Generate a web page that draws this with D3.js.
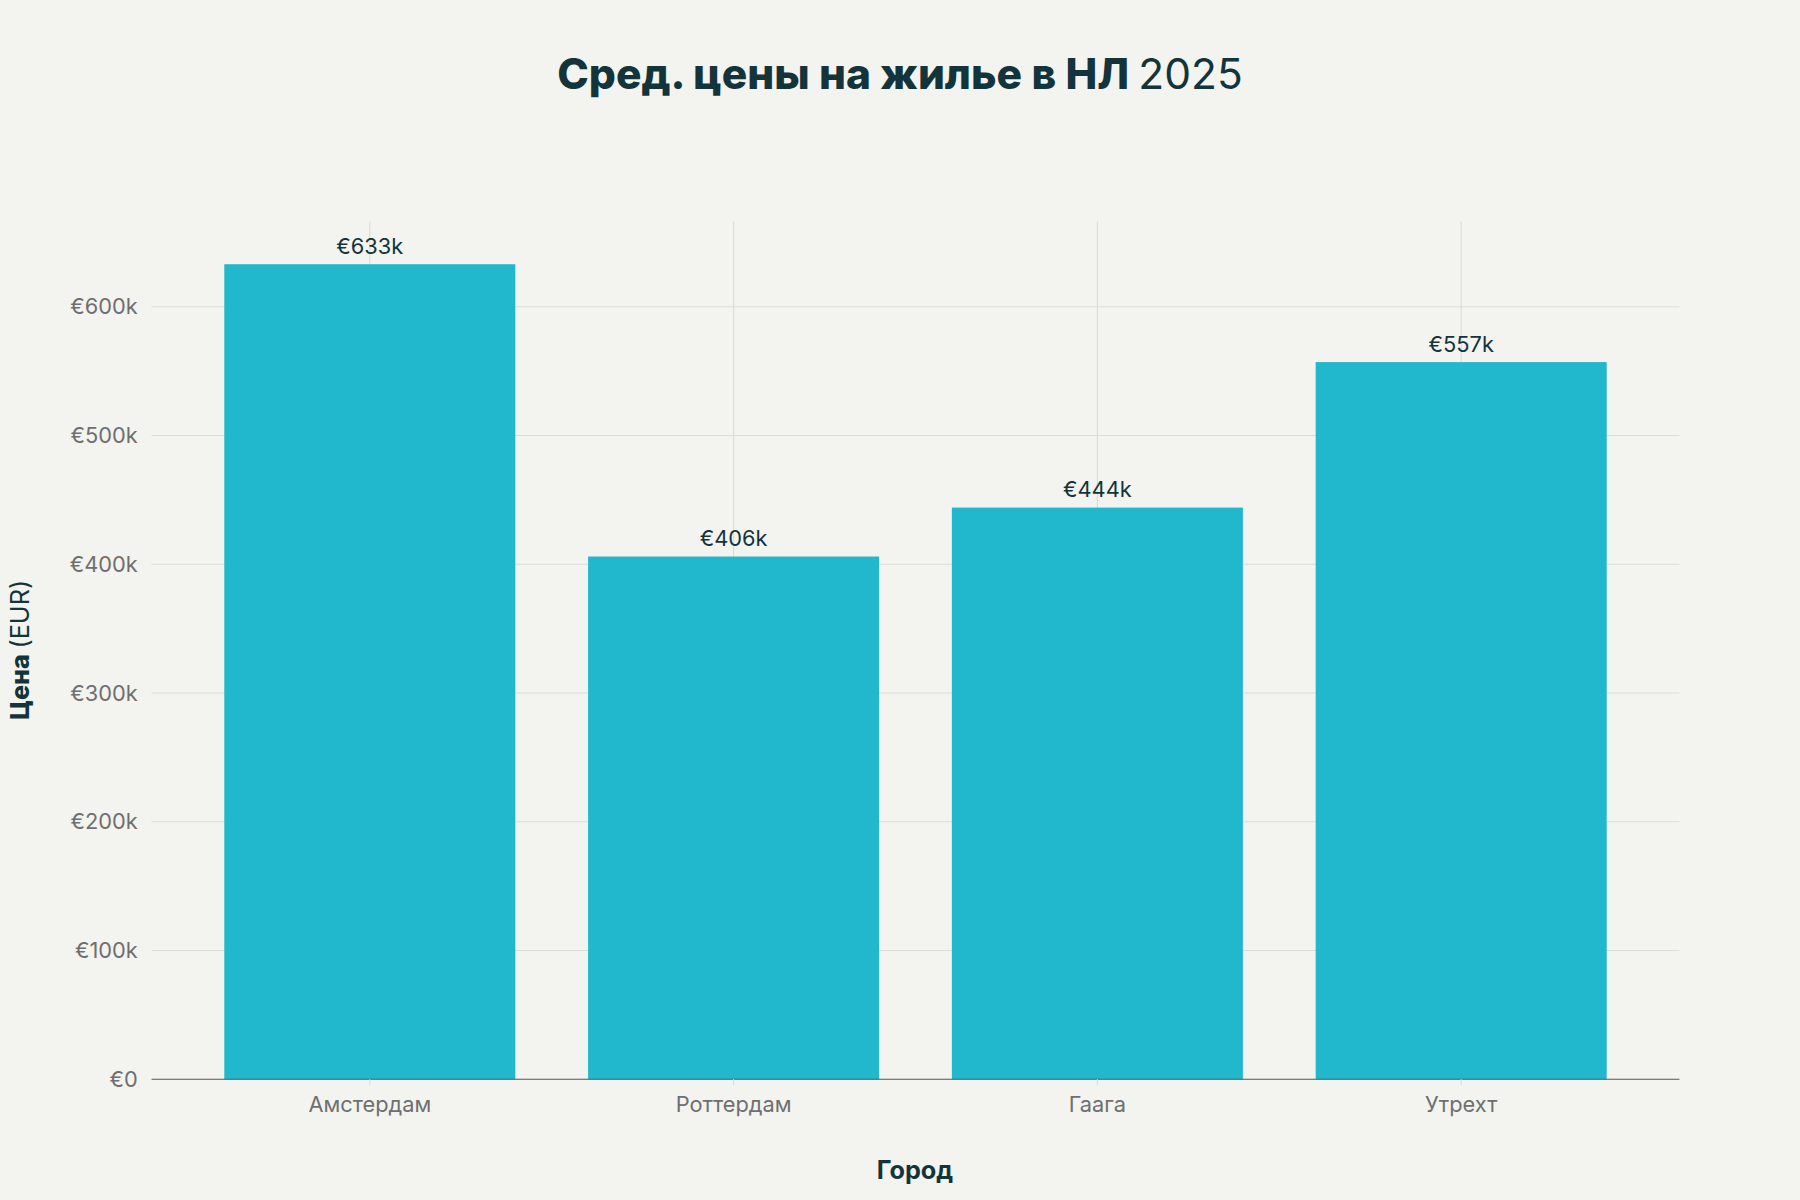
<!DOCTYPE html>
<html><head><meta charset="utf-8">
<script src="https://cdn.jsdelivr.net/npm/d3@7"></script>
<style>body{margin:0;background:#f3f3ef}svg{display:block}</style>
</head><body>
<script>
const cities = ["Амстердам","Роттердам","Гаага","Утрехт"];
const prices = [633000,406000,444000,557000];
const labels = ["€633k","€406k","€444k","€557k"];
const yTicks = [0,100000,200000,300000,400000,500000,600000];
const yTickLabels = ["€0","€100k","€200k","€300k","€400k","€500k","€600k"];

const W=1568,H=1045;
const svg=d3.select("body").append("svg").attr("width",1800).attr("height",1200)
  .attr("viewBox",`0 0 ${W} ${H}`);
svg.append("rect").attr("width",W).attr("height",H).attr("fill","#f3f3ef");
const L=132,R=1463,T=193,B=940;
const x=d3.scaleBand().domain(cities).range([L,R]).padding(0.2);
const y=d3.scaleLinear().domain([0,666000]).range([B,T]);
const font="Inter, 'Noto Sans', sans-serif";
const dark="#13343b";

// grid
svg.append("g").selectAll("line").data(yTicks.slice(1)).join("line")
  .attr("x1",L).attr("x2",R).attr("y1",d=>y(d)).attr("y2",d=>y(d))
  .attr("stroke","#dcdcd8").attr("stroke-width",1);
svg.append("g").selectAll("line").data(cities).join("line")
  .attr("x1",d=>x(d)+x.bandwidth()/2).attr("x2",d=>x(d)+x.bandwidth()/2)
  .attr("y1",T).attr("y2",B).attr("stroke","#dcdcd8");

// bars
svg.append("g").selectAll("rect").data(cities).join("rect")
  .attr("x",d=>x(d)).attr("width",x.bandwidth())
  .attr("y",(d,i)=>y(prices[i])).attr("height",(d,i)=>B-y(prices[i]))
  .attr("fill","#21b8cd");
svg.append("g").selectAll("text").data(cities).join("text")
  .attr("x",d=>x(d)+x.bandwidth()/2).attr("y",(d,i)=>y(prices[i])-9)
  .attr("text-anchor","middle").attr("font-family",font).attr("font-size",19)
  .attr("fill",dark).text((d,i)=>labels[i]);

// axes
const ya=d3.axisLeft(y).tickValues(yTicks).tickFormat((d,i)=>yTickLabels[i]).tickSize(0).tickPadding(12);
const yg=svg.append("g").attr("transform",`translate(${L},0)`).call(ya);
yg.select(".domain").remove();
yg.selectAll("text").attr("font-family",font).attr("font-size",19).attr("fill","#6f6f6f");
const xa=d3.axisBottom(x).tickSize(5).tickPadding(10);
const xg=svg.append("g").attr("transform",`translate(0,${B})`).call(xa);
xg.select(".domain").attr("stroke","#555").attr("d",`M${L},0H${R}`);
xg.selectAll(".tick line").attr("stroke","#dcdcd8");
xg.selectAll("text").attr("font-family",font).attr("font-size",19).attr("fill","#6f6f6f");

// titles
const t=svg.append("text").attr("x",784).attr("y",77).attr("text-anchor","middle")
  .attr("font-family",font).attr("font-size",37).attr("fill",dark);
t.append("tspan").attr("font-weight",800).text("Сред. цены на жилье в НЛ ");
t.append("tspan").attr("font-weight",400).text("2025");
svg.append("text").attr("x",797).attr("y",1027).attr("text-anchor","middle")
  .attr("font-family",font).attr("font-size",22).attr("font-weight",700).attr("fill",dark).text("Город");
const yt=svg.append("text").attr("transform","translate(25,566) rotate(-90)").attr("text-anchor","middle")
  .attr("font-family",font).attr("font-size",22).attr("fill",dark);
yt.append("tspan").attr("font-weight",800).text("Цена ");
yt.append("tspan").attr("font-weight",400).text("(EUR)");
</script>
</body></html>
